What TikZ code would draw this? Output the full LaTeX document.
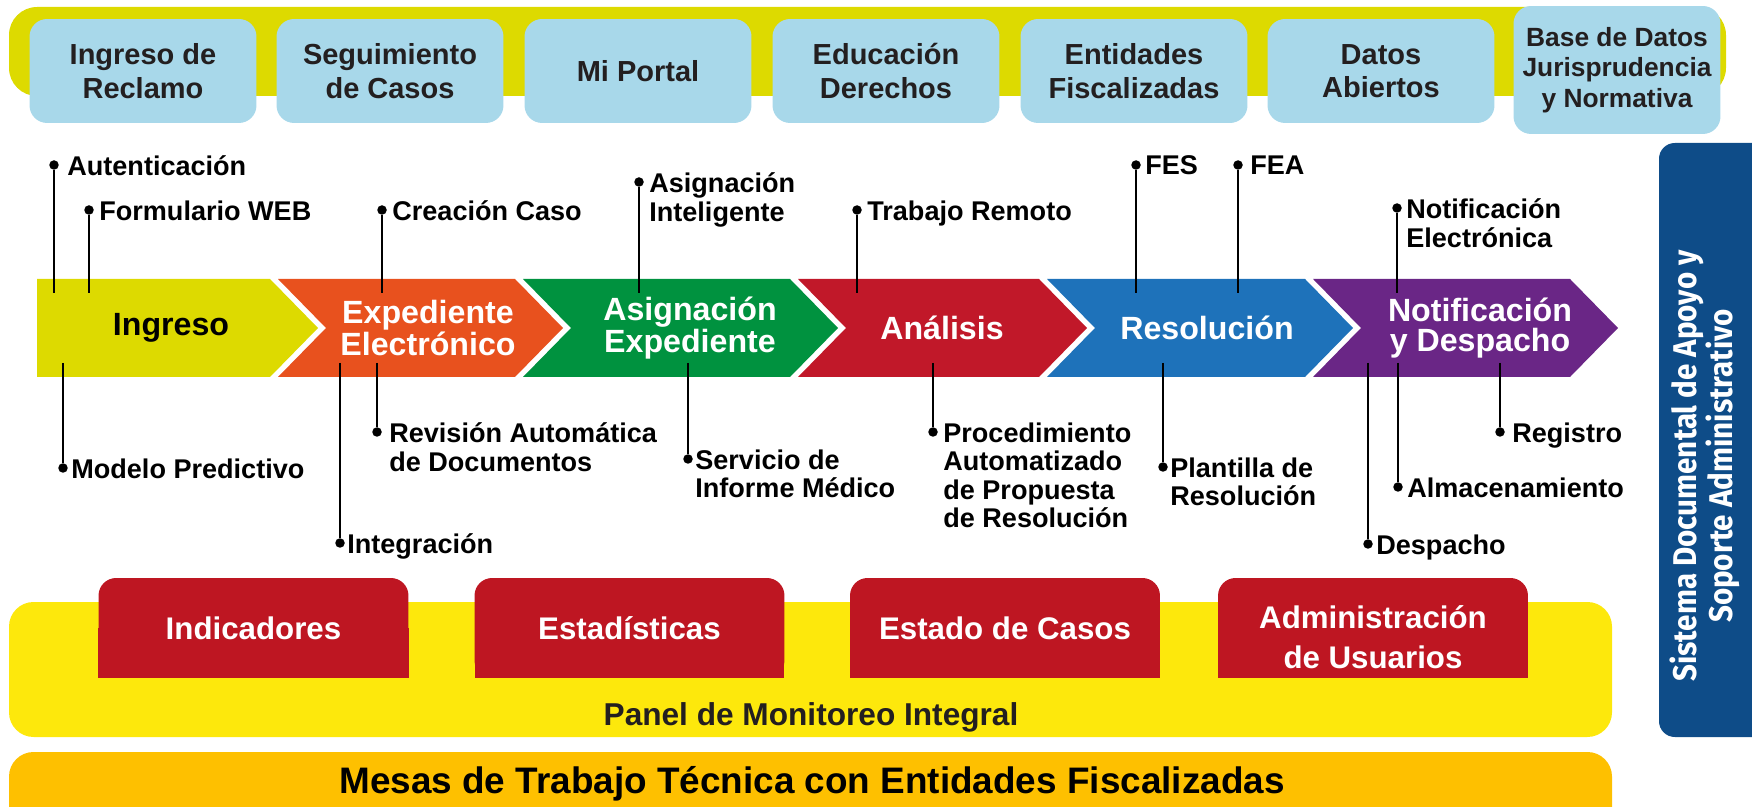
\documentclass[tikz,border=0pt]{standalone}
\usepackage{fontspec}
\setmainfont{Liberation Sans}
\newfontfamily\sidefont{Fira Sans}[FakeStretch=0.9]
\usetikzlibrary{positioning,calc}

\definecolor{bandolive}{RGB}{221,218,0}
\definecolor{skyblue}{RGB}{168,216,234}
\definecolor{inkdark}{RGB}{35,31,32}
\definecolor{chevorange}{RGB}{232,81,30}
\definecolor{chevgreen}{RGB}{0,146,63}
\definecolor{chevred}{RGB}{193,24,41}
\definecolor{chevblue}{RGB}{30,114,186}
\definecolor{chevpurple}{RGB}{106,38,134}
\definecolor{tabred}{RGB}{190,22,34}
\definecolor{panelyellow}{RGB}{253,232,12}
\definecolor{mesaorange}{RGB}{254,192,0}
\definecolor{sideblue}{RGB}{14,76,136}

\begin{document}
\begin{tikzpicture}[x=0.02cm,y=-0.02cm,
    dot/.style={circle,fill=black,inner sep=0pt,minimum size=0.19cm},
    wire/.style={line width=0.8pt},
    lbl/.style={anchor=north west,inner sep=0pt,align=left,text=black,font=\bfseries\fontsize{15.4}{16.2}\selectfont},
    topbox/.style={fill=skyblue,rounded corners=10pt,minimum width=4.54cm,minimum height=2.08cm,inner sep=2pt,align=center,text=inkdark,font=\bfseries\fontsize{16.5}{19}\selectfont},
    chevtxt/.style={align=center,inner sep=0pt,text=white,font=\bfseries\fontsize{18.3}{16.8}\selectfont},
    tab/.style={fill=tabred,rounded corners=10pt,minimum width=6.2cm,minimum height=2cm,align=center,text=white,font=\bfseries\fontsize{17.8}{22.5}\selectfont}]
\useasboundingbox (0,0) rectangle (1752,807);
\clip (0,0) rectangle (1752,807);

% portal bar
\fill[bandolive,rounded corners=16pt] (9,7) rectangle (1726,96);
\node[topbox] (reclamo) at (143,71) {Ingreso de\\Reclamo};
\node[topbox] (seguimiento) at (390,71) {Seguimiento\\de Casos};
\node[topbox] (portal) at (638,71) {Mi Portal};
\node[topbox] (educacion) at (886,71) {Educación\\Derechos};
\node[topbox] (entidades) at (1134,71) {Entidades\\Fiscalizadas};
\node[topbox] (abiertos) at (1381,71) {Datos\\Abiertos};
\node[topbox,minimum width=4.14cm,minimum height=2.56cm,font=\bfseries\fontsize{15}{17.5}\selectfont]
    (basedatos) at (1617,70) {Base de Datos\\Jurisprudencia\\y Normativa};

% process chevrons
\fill[bandolive] (37,279) -- (270,279) -- (318,328) -- (270,377) -- (37,377) -- cycle;
\fill[chevorange] (278,279) -- (515,279) -- (563,328) -- (515,377) -- (278,377) -- (326,328) -- cycle;
\fill[chevgreen] (523,279) -- (790,279) -- (838,328) -- (790,377) -- (523,377) -- (571,328) -- cycle;
\fill[chevred] (798,279) -- (1039,279) -- (1087,328) -- (1039,377) -- (798,377) -- (846,328) -- cycle;
\fill[chevblue] (1047,279) -- (1305,279) -- (1353,328) -- (1305,377) -- (1047,377) -- (1095,328) -- cycle;
\fill[chevpurple] (1313,279) -- (1570,279) -- (1618,328) -- (1570,377) -- (1313,377) -- (1361,328) -- cycle;
\node[chevtxt,text=black] (ingreso) at (171,328) {Ingreso};
\node[chevtxt] (expediente) at (428,328) {Expediente\\Electrónico};
\node[chevtxt] (asignacion) at (690,328) {Asignación\\Expediente};
\node[chevtxt] (analisis) at (942,328) {Análisis};
\node[chevtxt] (resolucion) at (1207,328) {Resolución};
\node[chevtxt] (notificacion) at (1480,328) {Notificación\\y Despacho};

% upper annotations
\node[dot] (autent) at (54,165) {};
\coordinate (autent-end) at (54,293);
\draw[wire] (autent) -- (autent-end);
\node[lbl] (autent-txt) at ([xshift=0.26cm,yshift=0.19cm]autent.center) {Autenticación};
\node[dot] (formweb) at (89,210) {};
\coordinate (formweb-end) at (89,293);
\draw[wire] (formweb) -- (formweb-end);
\node[lbl] (formweb-txt) at ([xshift=0.2cm,yshift=0.19cm]formweb.center) {Formulario WEB};
\node[dot] (creacion) at (382,210) {};
\coordinate (creacion-end) at (382,293);
\draw[wire] (creacion) -- (creacion-end);
\node[lbl] (creacion-txt) at ([xshift=0.2cm,yshift=0.19cm]creacion.center) {Creación Caso};
\node[dot] (asigint) at (639,182) {};
\coordinate (asigint-end) at (639,293);
\draw[wire] (asigint) -- (asigint-end);
\node[lbl] (asigint-txt) at ([xshift=0.2cm,yshift=0.19cm]asigint.center) {Asignación\\Inteligente};
\node[dot] (trabajo) at (857,210) {};
\coordinate (trabajo-end) at (857,293);
\draw[wire] (trabajo) -- (trabajo-end);
\node[lbl] (trabajo-txt) at ([xshift=0.2cm,yshift=0.19cm]trabajo.center) {Trabajo Remoto};
\node[dot] (fes) at (1136,165) {};
\coordinate (fes-end) at (1136,293);
\draw[wire] (fes) -- (fes-end);
\node[lbl] (fes-txt) at ([xshift=0.18cm,yshift=0.19cm]fes.center) {FES};
\node[dot] (fea) at (1238,165) {};
\coordinate (fea-end) at (1238,293);
\draw[wire] (fea) -- (fea-end);
\node[lbl] (fea-txt) at ([xshift=0.24cm,yshift=0.19cm]fea.center) {FEA};
\node[dot] (notielec) at (1397,208) {};
\coordinate (notielec-end) at (1397,293);
\draw[wire] (notielec) -- (notielec-end);
\node[lbl] (notielec-txt) at ([xshift=0.18cm,yshift=0.19cm]notielec.center) {Notificación\\Electrónica};

% lower annotations
\node[dot] (modelo) at (63,468) {};
\coordinate (modelo-end) at (63,363);
\draw[wire] (modelo-end) -- (modelo);
\node[lbl] (modelo-txt) at ([xshift=0.16cm,yshift=0.19cm]modelo.center) {Modelo Predictivo};
\node[dot] (integra) at (340,543) {};
\coordinate (integra-end) at (340,363);
\draw[wire] (integra-end) -- (integra);
\node[lbl] (integra-txt) at ([xshift=0.14cm,yshift=0.19cm]integra.center) {Integración};
\node[dot] (revision) at (377,432) {};
\coordinate (revision-end) at (377,363);
\draw[wire] (revision-end) -- (revision);
\node[lbl] (revision-txt) at ([xshift=0.24cm,yshift=0.19cm]revision.center) {Revisión Automática\\de Documentos};
\node[dot] (servicio) at (688,459) {};
\coordinate (servicio-end) at (688,363);
\draw[wire] (servicio-end) -- (servicio);
\node[lbl] (servicio-txt) at ([xshift=0.14cm,yshift=0.19cm]servicio.center) {Servicio de\\Informe Médico};
\node[dot] (procedim) at (933,432) {};
\coordinate (procedim-end) at (933,363);
\draw[wire] (procedim-end) -- (procedim);
\node[lbl] (procedim-txt) at ([xshift=0.2cm,yshift=0.19cm]procedim.center) {Procedimiento\\Automatizado\\de Propuesta\\de Resolución};
\node[dot] (plantilla) at (1163,467) {};
\coordinate (plantilla-end) at (1163,363);
\draw[wire] (plantilla-end) -- (plantilla);
\node[lbl] (plantilla-txt) at ([xshift=0.14cm,yshift=0.19cm]plantilla.center) {Plantilla de\\Resolución};
\node[dot] (despacho) at (1368,544) {};
\coordinate (despacho-end) at (1368,363);
\draw[wire] (despacho-end) -- (despacho);
\node[lbl] (despacho-txt) at ([xshift=0.16cm,yshift=0.19cm]despacho.center) {Despacho};
\node[dot] (almacen) at (1398,487) {};
\coordinate (almacen-end) at (1398,363);
\draw[wire] (almacen-end) -- (almacen);
\node[lbl] (almacen-txt) at ([xshift=0.18cm,yshift=0.19cm]almacen.center) {Almacenamiento};
\node[dot] (registro) at (1500,432) {};
\coordinate (registro-end) at (1500,363);
\draw[wire] (registro-end) -- (registro);
\node[lbl] (registro-txt) at ([xshift=0.24cm,yshift=0.19cm]registro.center) {Registro};

% monitoring panel
\fill[panelyellow,rounded corners=14pt] (9,602) rectangle (1612,737);
\fill[tabred] (98,628) rectangle (409,678);
\fill[tabred] (475,628) rectangle (784,678);
\fill[tabred] (850,628) rectangle (1160,678);
\fill[tabred] (1218,628) rectangle (1528,678);
\node[tab] (indicadores) at (253.5,628) {Indicadores};
\node[tab] (estadisticas) at (629.5,628) {Estadísticas};
\node[tab] (estado) at (1005,628) {Estado de Casos};
\node[tab] (usuarios) at (1373,628) {};
\node[align=center,text=white,font=\bfseries\fontsize{17.8}{22.5}\selectfont] (usuarios-txt) at (1373,637) {Administración\\de Usuarios};
\node[text=inkdark,font=\bfseries\fontsize{18}{20}\selectfont] (panel) at (811,717) {Panel de Monitoreo Integral};

% technical tables
\fill[mesaorange,rounded corners=14pt] (9,752) rectangle (1612,860);
\node[text=black,font=\bfseries\fontsize{21}{24}\selectfont] (mesas) at (812,784) {Mesas de Trabajo Técnica con Entidades Fiscalizadas};

% support system
\fill[sideblue,rounded corners=9pt] (1659,143) rectangle (1790,737);
\node[rotate=90,align=center,text=white,font=\sidefont\bfseries\fontsize{18.7}{20.5}\selectfont] (sistema) at (1705,466) {Sistema Documental de Apoyo y\\Soporte Administrativo};
\end{tikzpicture}
\end{document}
